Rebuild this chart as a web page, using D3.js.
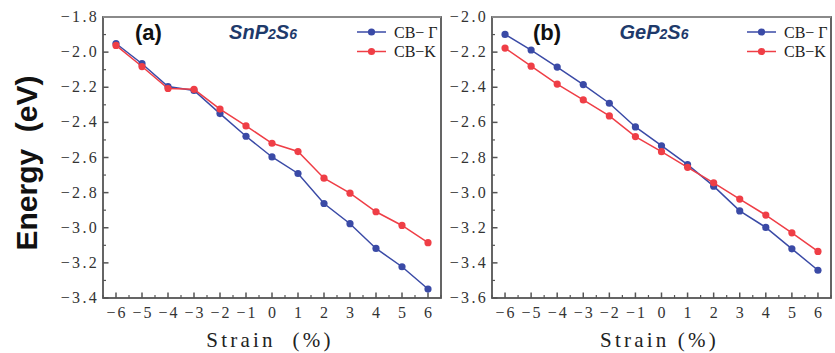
<!DOCTYPE html>
<html><head><meta charset="utf-8">
<script src="https://cdn.jsdelivr.net/npm/d3@7"></script>
<style>body{margin:0;background:#fff}svg{display:block}</style>
</head><body>
<svg id="c" width="835" height="353"></svg>
<script>
const strain = [-6,-5,-4,-3,-2,-1,0,1,2,3,4,5,6];
const xTicks = [-6,-5,-4,-3,-2,-1,0,1,2,3,4,5,6];
// Panel (a) SnP2S6
const snGamma = [-1.951,-2.066,-2.196,-2.218,-2.350,-2.479,-2.597,-2.691,-2.862,-2.977,-3.118,-3.222,-3.349];
const snK     = [-1.962,-2.082,-2.207,-2.212,-2.324,-2.420,-2.519,-2.566,-2.718,-2.803,-2.909,-2.987,-3.085];
const yTicksA = [-1.8,-2.0,-2.2,-2.4,-2.6,-2.8,-3.0,-3.2,-3.4];
// Panel (b) GeP2S6
const geGamma = [-2.099,-2.188,-2.285,-2.385,-2.491,-2.626,-2.733,-2.841,-2.963,-3.104,-3.198,-3.320,-3.442];
const geK     = [-2.177,-2.280,-2.382,-2.472,-2.563,-2.681,-2.767,-2.856,-2.944,-3.037,-3.128,-3.229,-3.335];
const yTicksB = [-2.0,-2.2,-2.4,-2.6,-2.8,-3.0,-3.2,-3.4,-3.6];
const seriesNames = ["CB\u2212 \u0393","CB\u2212K"];

const BLUE = "#3a4aa6", RED = "#ef3e46", AX = "#555";
const SERIF = "Liberation Serif, Times New Roman, serif";
const svg = d3.select("#c");

function fmt(v){ return (v<0?"\u2212":"") + Math.abs(v).toFixed(1); }

function panel(opt){
  const x = d3.scaleLinear().domain([-6.5,6.5]).range([opt.x0,opt.x1]);
  const y = d3.scaleLinear().domain(opt.ydom).range([298,17]);
  const g = svg.append("g");
  // minor x ticks
  const xMinor = d3.range(-6.5,6.51,0.5).filter(v=>!Number.isInteger(v));
  g.selectAll(".xmi").data(xMinor).join("line")
    .attr("x1",d=>x(d)).attr("x2",d=>x(d)).attr("y1",298).attr("y2",295)
    .attr("stroke",AX).attr("stroke-width",1.2);
  g.selectAll(".xma").data(xTicks).join("line")
    .attr("x1",d=>x(d)).attr("x2",d=>x(d)).attr("y1",298).attr("y2",292.5)
    .attr("stroke",AX).attr("stroke-width",1.5);
  // y ticks
  const yMinor = d3.range(0,8).map(i=>opt.yTicks[i]-0.1);
  g.selectAll(".ymi").data(yMinor).join("line")
    .attr("x1",opt.x0).attr("x2",opt.x0+3).attr("y1",d=>y(d)).attr("y2",d=>y(d))
    .attr("stroke",AX).attr("stroke-width",1.2);
  g.selectAll(".yma").data(opt.yTicks).join("line")
    .attr("x1",opt.x0).attr("x2",opt.x0+5.5).attr("y1",d=>y(d)).attr("y2",d=>y(d))
    .attr("stroke",AX).attr("stroke-width",1.5);
  // frame
  g.append("rect").attr("x",opt.x0).attr("y",17).attr("width",opt.x1-opt.x0).attr("height",281)
    .attr("fill","none").attr("stroke",AX).attr("stroke-width",1.8);
  g.append("line").attr("x1",opt.x0).attr("x2",opt.x1).attr("y1",17).attr("y2",17)
    .attr("stroke","#8a8a8a").attr("stroke-width",1.8);
  // tick labels
  g.selectAll(".xl").data(xTicks).join("text")
    .attr("x",d=>x(d)+1).attr("y",318).attr("text-anchor","middle")
    .attr("font-family",SERIF).attr("font-size",16).attr("letter-spacing",2).attr("fill","#333")
    .text(d=>(d<0?"\u2212":"")+Math.abs(d));
  g.selectAll(".yl").data(opt.yTicks).join("text")
    .attr("x",opt.x0-4).attr("y",d=>y(d)+5).attr("text-anchor","end")
    .attr("font-family",SERIF).attr("font-size",16).attr("letter-spacing",2.3).attr("fill","#333")
    .text(fmt);
  // series
  const line = d3.line().x((d,i)=>x(strain[i])).y(d=>y(d));
  [[opt.g,BLUE],[opt.k,RED]].forEach(([data,col])=>{
    g.append("path").datum(data).attr("d",line).attr("fill","none").attr("stroke",col).attr("stroke-width",1.5);
    g.selectAll(null).data(data).join("circle")
      .attr("cx",(d,i)=>x(strain[i])).attr("cy",d=>y(d)).attr("r",3.6).attr("fill",col);
  });
  // legend
  seriesNames.forEach((n,i)=>{
    const col = i===0?BLUE:RED, ly = 32+i*19.5, lx = opt.x1-84;
    g.append("line").attr("x1",lx).attr("x2",lx+29).attr("y1",ly).attr("y2",ly).attr("stroke",col).attr("stroke-width",1.5);
    g.append("circle").attr("cx",lx+14.5).attr("cy",ly).attr("r",3.6).attr("fill",col);
    g.append("text").attr("x",opt.x1-47).attr("y",ly+5.5).attr("font-family",SERIF)
      .attr("font-size",16).attr("fill","#222").text(n);
  });
  // panel label
  g.append("text").attr("x",opt.labX).attr("y",40).attr("font-family","Liberation Sans, Arial, sans-serif")
    .attr("font-weight","bold").attr("font-size",22).attr("fill","#111").text(opt.label);
  // material
  const m = g.append("text").attr("x",opt.matX).attr("y",39).attr("text-anchor","middle")
    .attr("font-family","Liberation Sans, Arial, sans-serif").attr("font-style","italic").attr("font-weight","bold")
    .attr("font-size",20).attr("fill","#1e3a6b");
  opt.mat.forEach(([t,sub])=>{ m.append("tspan").attr("font-size",sub?14:20).text(t); });
  // x title
  g.append("text").attr("x",(opt.x0+opt.x1)/2-2).attr("y",347).attr("text-anchor","middle")
    .attr("font-family",SERIF).attr("font-size",21).attr("letter-spacing",3.2).attr("fill","#222")
    .style("white-space","pre").text(opt.xtitle);
}

panel({x0:103,x1:441,ydom:[-3.4,-1.8],yTicks:yTicksA,g:snGamma,k:snK,label:"(a)",labX:135,matX:263,
  mat:[["SnP",0],["2",1],["S",0],["6",1]],xtitle:"Strain  (%)"});
panel({x0:492,x1:831,ydom:[-3.6,-2.0],yTicks:yTicksB,g:geGamma,k:geK,label:"(b)",labX:533,matX:654,
  mat:[["GeP",0],["2",1],["S",0],["6",1]],xtitle:"Strain (%)"});

svg.append("text").attr("transform","translate(37,163) rotate(-90)").attr("text-anchor","middle")
  .attr("font-family","Liberation Sans, Arial, sans-serif").attr("font-weight","bold").attr("font-size",30)
  .attr("fill","#111").style("white-space","pre").text("Energy  (eV)");
</script>
</body></html>
